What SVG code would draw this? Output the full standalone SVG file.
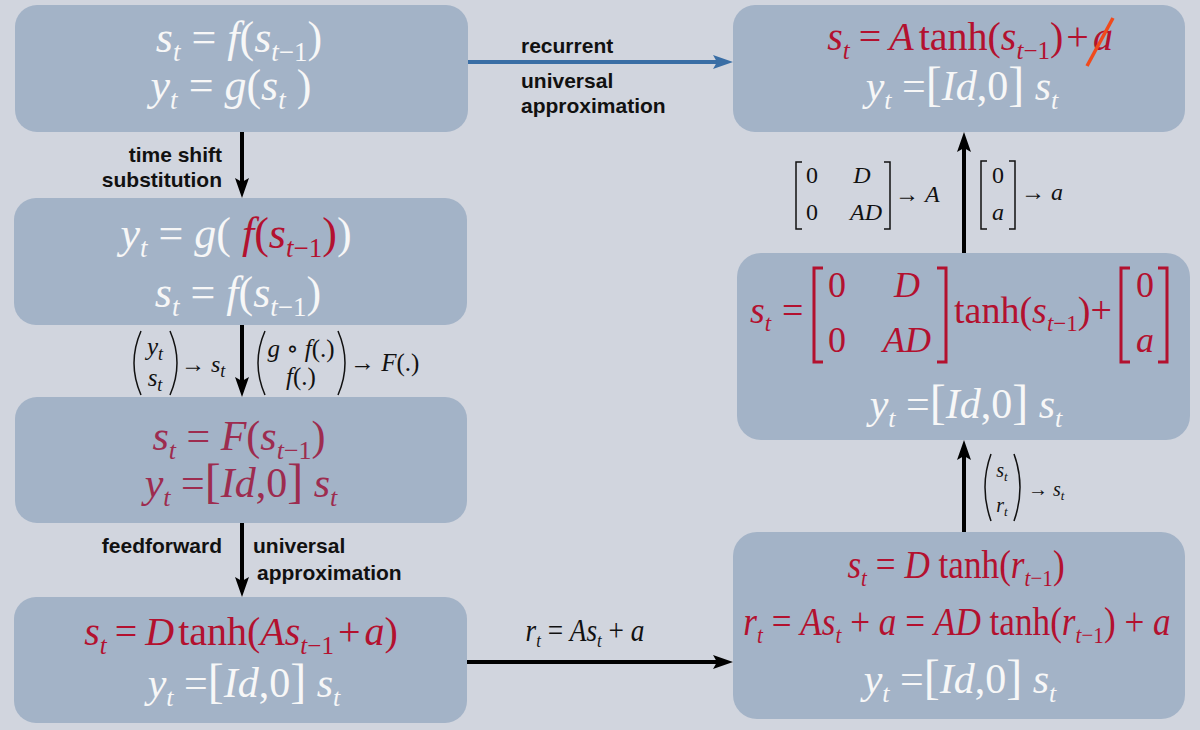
<svg xmlns="http://www.w3.org/2000/svg" width="1200" height="730" viewBox="0 0 1200 730">
<defs>
<style>
.bg{fill:#d1d5de}
.box{fill:#a3b3c7}
.m{font-family:'Liberation Serif','DejaVu Serif',serif}
.i{font-style:italic}
.w{fill:#f7f7f7}
.r{fill:#b3112f}
.mr{fill:#9d2c4f}
.k{fill:#111}
.lb{font-family:'Liberation Sans',Arial,sans-serif;font-weight:bold;font-size:21px;fill:#111}
.con{stroke:#000;stroke-width:4;fill:none}
.dl{fill:none;stroke:#111;stroke-width:1.5}
.dr{fill:none;stroke:#b3112f;stroke-width:3}
</style>
<marker id="ah" markerUnits="userSpaceOnUse" markerWidth="22" markerHeight="16" refX="10" refY="7" orient="auto" viewBox="0 0 22 16">
<path d="M0,0 L20,7 L0,14 L4,7 z" fill="#000"/>
</marker>
<marker id="ahb" markerUnits="userSpaceOnUse" markerWidth="22" markerHeight="16" refX="10" refY="7" orient="auto" viewBox="0 0 22 16">
<path d="M0,0 L20,7 L0,14 L4,7 z" fill="#3a6ea5"/>
</marker>
</defs>
<rect class="bg" x="0" y="0" width="1200" height="730"/>

<g id="connectors">
<line class="con" x1="242" y1="132" x2="242" y2="188" marker-end="url(#ah)"/>
<line class="con" x1="242" y1="325" x2="242" y2="387" marker-end="url(#ah)"/>
<line class="con" x1="242" y1="523" x2="242" y2="587" marker-end="url(#ah)"/>
<line class="con" x1="468" y1="62" x2="723" y2="62" style="stroke:#3a6ea5" marker-end="url(#ahb)"/>
<line class="con" x1="467" y1="662" x2="723" y2="662" marker-end="url(#ah)"/>
<line class="con" x1="964" y1="253" x2="964" y2="142" marker-end="url(#ah)"/>
<line class="con" x1="964" y1="532" x2="964" y2="450" marker-end="url(#ah)"/>
</g>

<g id="labels">
<text class="lb" x="222" y="162" text-anchor="end">time shift</text>
<text class="lb" x="222" y="187" text-anchor="end">substitution</text>
<text class="lb" x="222" y="553" text-anchor="end">feedforward</text>
<text class="lb" x="253" y="553">universal</text>
<text class="lb" x="257" y="580">approximation</text>
<text class="lb" x="521" y="53">recurrent</text>
<text class="lb" x="521" y="88">universal</text>
<text class="lb" x="521" y="113">approximation</text>

<path class="dl" d="M141,331 Q127,363 141,395"/>
<path class="dl" d="M170,331 Q184,363 170,395"/>
<text class="m i k" x="155" y="355" font-size="25" text-anchor="middle">y<tspan font-size="18" dy="5">t</tspan></text>
<text class="m i k" x="155" y="386" font-size="25" text-anchor="middle">s<tspan font-size="18" dy="5">t</tspan></text>
<text class="m k" x="181" y="372" font-size="24">→ <tspan class="i">s</tspan><tspan class="i" font-size="18" dy="5">t</tspan></text>

<path class="dl" d="M265,331 Q251,363 265,395"/>
<path class="dl" d="M338,331 Q352,363 338,395"/>
<text class="m k" x="301" y="357" font-size="25" text-anchor="middle"><tspan class="i">g</tspan> ∘ <tspan class="i">f</tspan>(.)</text>
<text class="m k" x="301" y="385" font-size="25" text-anchor="middle"><tspan class="i">f</tspan>(.)</text>
<text class="m k" x="350" y="371" font-size="25">→ <tspan class="i">F</tspan>(.)</text>

<path class="dl" d="M802,162 H796 V229 H802"/>
<path class="dl" d="M884,162 H890 V229 H884"/>
<text class="m k" x="806" y="183" font-size="24">0</text>
<text class="m k" x="806" y="220" font-size="24">0</text>
<text class="m i k" x="862" y="183" font-size="24" text-anchor="middle">D</text>
<text class="m i k" x="866" y="220" font-size="24" text-anchor="middle">AD</text>
<text class="m k" x="895" y="202" font-size="24">→ <tspan class="i">A</tspan></text>

<path class="dl" d="M987,161 H981 V229 H987"/>
<path class="dl" d="M1009,161 H1015 V229 H1009"/>
<text class="m k" x="998" y="183" font-size="24" text-anchor="middle">0</text>
<text class="m i k" x="998" y="220" font-size="24" text-anchor="middle">a</text>
<text class="m k" x="1021" y="200" font-size="24">→ <tspan class="i">a</tspan></text>

<path class="dl" d="M991,454 Q979,487 991,521"/>
<path class="dl" d="M1014,454 Q1026,487 1014,521"/>
<text class="m i k" x="1002" y="477" font-size="20" text-anchor="middle">s<tspan font-size="13" dy="4">t</tspan></text>
<text class="m i k" x="1002" y="512" font-size="20" text-anchor="middle">r<tspan font-size="13" dy="4">t</tspan></text>
<text class="m k" x="1028" y="496" font-size="20">→ <tspan class="i">s</tspan><tspan class="i" font-size="13" dy="4">t</tspan></text>

<g transform="translate(585,0) scale(0.88,1)">
<text class="m i k" x="0" y="641" font-size="31" text-anchor="middle">r<tspan font-size="19" dy="6">t</tspan><tspan dy="-6" font-style="normal"> = </tspan>As<tspan font-size="19" dy="6">t</tspan><tspan dy="-6" font-style="normal"> + </tspan>a</text>
</g>
</g>

<g id="node-1">
<rect class="box" x="15" y="5" width="453" height="127" rx="22"/>
<text class="m w" x="239" y="52" font-size="44" text-anchor="middle"><tspan class="i">s</tspan><tspan class="i" font-size="27" dy="9">t</tspan><tspan dy="-9"> = </tspan><tspan class="i">f</tspan>(<tspan class="i">s</tspan><tspan font-size="27" dy="9"><tspan class="i">t</tspan>−1</tspan><tspan dy="-9">)</tspan></text>
<text class="m w" x="231" y="100" font-size="44" text-anchor="middle"><tspan class="i">y</tspan><tspan class="i" font-size="27" dy="9">t</tspan><tspan dy="-9">  = </tspan><tspan class="i">g</tspan>(<tspan class="i">s</tspan><tspan class="i" font-size="27" dy="9">t</tspan><tspan dy="-9"> )</tspan></text>
</g>

<g id="node-2">
<rect class="box" x="14" y="198" width="453" height="127" rx="22"/>
<text class="m w" x="236" y="248" font-size="44" text-anchor="middle"><tspan class="i">y</tspan><tspan class="i" font-size="27" dy="9">t</tspan><tspan dy="-9"> = </tspan><tspan class="i">g</tspan>( <tspan class="r"><tspan class="i">f</tspan>(<tspan class="i">s</tspan><tspan font-size="27" dy="9"><tspan class="i">t</tspan>−1</tspan><tspan dy="-9">)</tspan></tspan>)</text>
<text class="m w" x="238" y="307" font-size="44" text-anchor="middle"><tspan class="i">s</tspan><tspan class="i" font-size="27" dy="9">t</tspan><tspan dy="-9"> = </tspan><tspan class="i">f</tspan>(<tspan class="i">s</tspan><tspan font-size="27" dy="9"><tspan class="i">t</tspan>−1</tspan><tspan dy="-9">)</tspan></text>
</g>

<g id="node-3">
<rect class="box" x="15" y="397" width="452" height="126" rx="22"/>
<text class="m mr" x="239" y="450" font-size="42" text-anchor="middle"><tspan class="i">s</tspan><tspan class="i" font-size="26" dy="9">t</tspan><tspan dy="-9"> = </tspan><tspan class="i">F</tspan>(<tspan class="i">s</tspan><tspan font-size="26" dy="9"><tspan class="i">t</tspan>−1</tspan><tspan dy="-9">)</tspan></text>
<text class="m mr" x="241" y="497" font-size="42" text-anchor="middle"><tspan class="i">y</tspan><tspan class="i" font-size="26" dy="9">t</tspan><tspan dy="-9"> =</tspan><tspan font-size="48">[</tspan><tspan class="i">Id</tspan>,0<tspan font-size="48">]</tspan> <tspan class="i">s</tspan><tspan class="i" font-size="26" dy="9">t</tspan></text>
</g>

<g id="node-4">
<rect class="box" x="14" y="597" width="453" height="126" rx="22"/>
<text class="m r" x="241" y="645" font-size="40" text-anchor="middle"><tspan class="i">s</tspan><tspan class="i" font-size="25" dy="9">t</tspan><tspan dy="-9" dx="8">=</tspan><tspan class="i" dx="8">D</tspan><tspan dx="4">tanh(</tspan><tspan class="i">As</tspan><tspan font-size="25" dy="9"><tspan class="i">t</tspan>−1</tspan><tspan dy="-9" dx="4">+</tspan><tspan class="i" dx="4">a</tspan>)</text>
<text class="m w" x="244" y="697" font-size="42" text-anchor="middle"><tspan class="i">y</tspan><tspan class="i" font-size="26" dy="9">t</tspan><tspan dy="-9"> =</tspan><tspan font-size="48">[</tspan><tspan class="i">Id</tspan>,0<tspan font-size="48">]</tspan> <tspan class="i">s</tspan><tspan class="i" font-size="26" dy="9">t</tspan></text>
</g>

<g id="node-5">
<rect class="box" x="733" y="5" width="452" height="127" rx="22"/>
<text class="m r" x="970" y="50" font-size="40" text-anchor="middle"><tspan class="i">s</tspan><tspan class="i" font-size="25" dy="9">t</tspan><tspan dy="-9" dx="9">=</tspan><tspan class="i" dx="8">A</tspan><tspan dx="5">tanh(</tspan><tspan class="i">s</tspan><tspan font-size="25" dy="9"><tspan class="i">t</tspan>−1</tspan><tspan dy="-9">)</tspan><tspan dx="3">+</tspan><tspan class="i" dx="4">a</tspan></text>
<line x1="1087" y1="66" x2="1113" y2="18" stroke="#f04a1c" stroke-width="3.5"/>
<text class="m w" x="962" y="100" font-size="42" text-anchor="middle"><tspan class="i">y</tspan><tspan class="i" font-size="26" dy="9">t</tspan><tspan dy="-9"> =</tspan><tspan font-size="48">[</tspan><tspan class="i">Id</tspan>,0<tspan font-size="48">]</tspan> <tspan class="i">s</tspan><tspan class="i" font-size="26" dy="9">t</tspan></text>
</g>

<g id="node-6">
<rect class="box" x="737" y="253" width="453" height="187" rx="24"/>
<text class="m r i" x="750" y="323" font-size="38">s<tspan font-size="23" dy="8">t</tspan></text>
<text class="m r" x="782" y="323" font-size="38">=</text>
<path class="dr" d="M823,268 H814 V362 H823"/>
<path class="dr" d="M937,268 H946 V362 H937"/>
<text class="m r" x="828" y="297" font-size="36">0</text>
<text class="m r" x="828" y="352" font-size="36">0</text>
<text class="m r i" x="907" y="297" font-size="36" text-anchor="middle">D</text>
<text class="m r i" x="907" y="352" font-size="36" text-anchor="middle">AD</text>
<text class="m r" x="954" y="323" font-size="38">tanh(<tspan class="i">s</tspan><tspan font-size="23" dy="8"><tspan class="i">t</tspan>−1</tspan><tspan dy="-8">)+</tspan></text>
<path class="dr" d="M1130,268 H1121 V362 H1130"/>
<path class="dr" d="M1158,268 H1167 V362 H1158"/>
<text class="m r" x="1145" y="297" font-size="36" text-anchor="middle">0</text>
<text class="m r i" x="1145" y="352" font-size="36" text-anchor="middle">a</text>
<text class="m w" x="966" y="418" font-size="42" text-anchor="middle"><tspan class="i">y</tspan><tspan class="i" font-size="26" dy="9">t</tspan><tspan dy="-9"> =</tspan><tspan font-size="48">[</tspan><tspan class="i">Id</tspan>,0<tspan font-size="48">]</tspan> <tspan class="i">s</tspan><tspan class="i" font-size="26" dy="9">t</tspan></text>
</g>

<g id="node-7">
<rect class="box" x="733" y="532" width="452" height="187" rx="24"/>
<g transform="translate(956,0) scale(0.88,1)">
<text class="m r" x="0" y="578" font-size="40" text-anchor="middle"><tspan class="i">s</tspan><tspan class="i" font-size="24" dy="8">t</tspan><tspan dy="-8"> = </tspan><tspan class="i">D</tspan> tanh(<tspan class="i">r</tspan><tspan font-size="24" dy="8"><tspan class="i">t</tspan>−1</tspan><tspan dy="-8">)</tspan></text>
</g>
<g transform="translate(957,0) scale(0.88,1)">
<text class="m r" x="0" y="635" font-size="40" text-anchor="middle"><tspan class="i">r</tspan><tspan class="i" font-size="24" dy="8">t</tspan><tspan dy="-8"> = </tspan><tspan class="i">As</tspan><tspan class="i" font-size="24" dy="8">t</tspan><tspan dy="-8"> + </tspan><tspan class="i">a</tspan> = <tspan class="i">AD</tspan> tanh(<tspan class="i">r</tspan><tspan font-size="24" dy="8"><tspan class="i">t</tspan>−1</tspan><tspan dy="-8">) + </tspan><tspan class="i">a</tspan></text>
</g>
<text class="m w" x="960" y="693" font-size="42" text-anchor="middle"><tspan class="i">y</tspan><tspan class="i" font-size="26" dy="9">t</tspan><tspan dy="-9"> =</tspan><tspan font-size="48">[</tspan><tspan class="i">Id</tspan>,0<tspan font-size="48">]</tspan> <tspan class="i">s</tspan><tspan class="i" font-size="26" dy="9">t</tspan></text>
</g>
</svg>
